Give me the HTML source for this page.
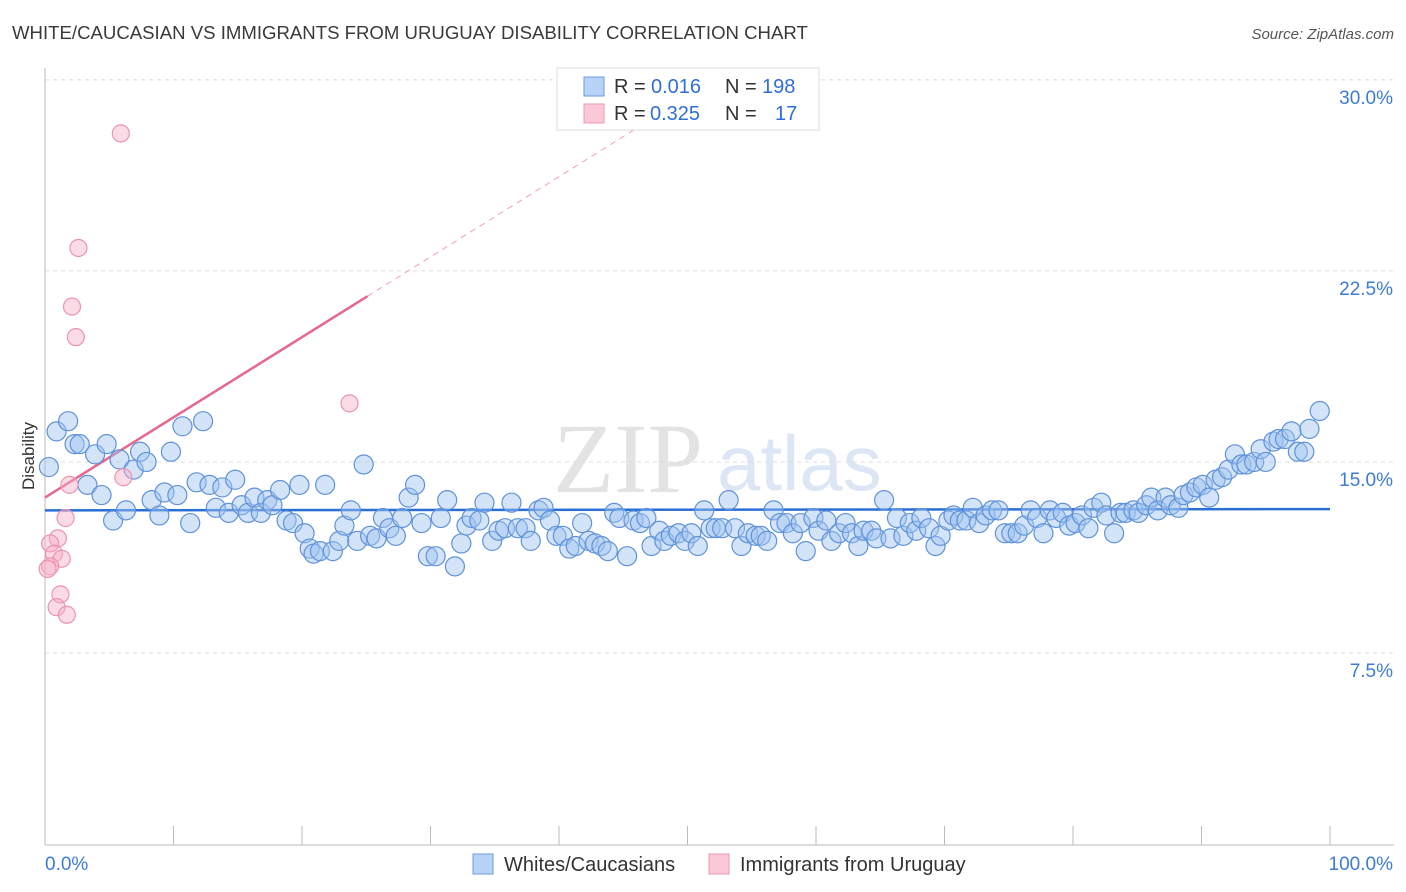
<!DOCTYPE html>
<html><head><meta charset="utf-8"><style>
body{margin:0;background:#fff;font-family:"Liberation Sans",sans-serif}
svg{display:block}
</style></head><body>
<svg id="chart" width="1406" height="892" xmlns="http://www.w3.org/2000/svg" font-family="Liberation Sans, sans-serif">
<text x="12" y="39" font-size="18.6" fill="#3a3a3a">WHITE/CAUCASIAN VS IMMIGRANTS FROM URUGUAY DISABILITY CORRELATION CHART</text>
<text x="1394" y="39" font-size="15" fill="#555" font-style="italic" text-anchor="end">Source: ZipAtlas.com</text>
<g>
<text x="553" y="492" font-size="100" font-family="Liberation Serif, serif" fill="#d8d8d8" opacity="0.7">ZIP</text>
<text x="717" y="490" font-size="78" fill="#c5d6ee" opacity="0.6">atlas</text>
</g>
<g id="grid"></g>
<g id="axes"></g>
<g id="trend"></g>
<g id="pts"></g>
<text transform="translate(34,456) rotate(-90)" font-size="17" fill="#333" text-anchor="middle">Disability</text>
<g>
<rect x="557" y="68" width="262" height="62" fill="#fff" stroke="#ddd"/>
<rect x="584" y="77" width="20" height="19" fill="#b8d3f5" stroke="#6d9be0"/>
<rect x="584" y="104" width="20" height="19" fill="#fbc8d8" stroke="#ec9ab4"/>
<text x="614" y="93" font-size="20" fill="#333">R =</text>
<text x="651" y="93" font-size="20" fill="#2f6fd8">0.016</text>
<text x="725" y="93" font-size="20" fill="#333">N =</text>
<text x="762" y="93" font-size="20" fill="#2f6fd8">198</text>
<text x="614" y="120" font-size="20" fill="#333">R =</text>
<text x="650" y="120" font-size="20" fill="#2f6fd8">0.325</text>
<text x="725" y="120" font-size="20" fill="#333">N =</text>
<text x="775" y="120" font-size="20" fill="#2f6fd8">17</text>
</g>
<g>
<rect x="473" y="854" width="20" height="20" fill="#b8d3f5" stroke="#6d9be0"/>
<text x="504" y="871" font-size="20" fill="#333">Whites/Caucasians</text>
<rect x="709" y="854" width="20" height="20" fill="#fbc8d8" stroke="#ec9ab4"/>
<text x="740" y="871" font-size="20" fill="#333">Immigrants from Uruguay</text>
</g>
</svg>
<script>
const yTicks=[7.5,15,22.5,30];
const yTickLabels=["7.5%","15.0%","22.5%","30.0%"];
const xTickLabels=["0.0%","100.0%"];
const blueX=[0.3,0.9,1.8,2.3,2.7,3.3,3.9,4.4,4.8,5.3,5.8,6.3,6.9,7.4,7.9,8.3,8.9,9.3,9.8,10.3,10.7,11.3,11.8,12.3,12.8,13.3,13.8,14.3,14.8,15.3,15.8,16.3,16.8,17.3,17.7,18.3,18.8,19.3,19.8,20.2,20.6,20.9,21.4,21.8,22.4,22.9,23.3,23.8,24.3,24.8,25.3,25.8,26.3,26.8,27.3,27.8,28.3,28.8,29.3,29.8,30.4,30.8,31.3,31.9,32.4,32.8,33.2,33.8,34.2,34.8,35.3,35.8,36.3,36.8,37.4,37.8,38.4,38.8,39.3,39.8,40.3,40.8,41.3,41.8,42.3,42.8,43.3,43.8,44.3,44.7,45.3,45.8,46.3,46.8,47.2,47.8,48.2,48.7,49.3,49.8,50.3,50.8,51.3,51.8,52.2,52.7,53.2,53.7,54.2,54.7,55.3,55.7,56.2,56.7,57.2,57.7,58.2,58.8,59.2,59.8,60.2,60.8,61.2,61.8,62.3,62.8,63.3,63.7,64.3,64.7,65.3,65.8,66.3,66.8,67.3,67.8,68.2,68.8,69.3,69.7,70.3,70.7,71.2,71.7,72.2,72.7,73.2,73.7,74.2,74.7,75.2,75.7,76.2,76.7,77.2,77.7,78.2,78.7,79.2,79.7,80.2,80.7,81.2,81.6,82.2,82.6,83.2,83.7,84.1,84.7,85.1,85.7,86.1,86.6,87.2,87.6,88.2,88.6,89.1,89.6,90.1,90.6,91.1,91.6,92.1,92.6,93.1,93.5,94.1,94.6,95.0,95.6,96.0,96.5,97.0,97.5,98.0,98.4,99.2];
const blueY=[14.8,16.2,16.6,15.7,15.7,14.1,15.3,13.7,15.7,12.7,15.1,13.1,14.7,15.4,15.0,13.5,12.9,13.8,15.4,13.7,16.4,12.6,14.2,16.6,14.1,13.2,14.0,13.0,14.3,13.3,13.0,13.6,13.0,13.5,13.3,13.9,12.7,12.6,14.1,12.2,11.6,11.4,11.5,14.1,11.5,11.9,12.5,13.1,11.9,14.9,12.1,12.0,12.8,12.4,12.1,12.8,13.6,14.1,12.6,11.3,11.3,12.8,13.5,10.9,11.8,12.5,12.8,12.7,13.4,11.9,12.3,12.4,13.4,12.4,12.4,11.9,13.1,13.2,12.7,12.1,12.1,11.6,11.7,12.6,11.9,11.8,11.7,11.5,13.0,12.8,11.3,12.7,12.6,12.8,11.7,12.3,11.9,12.1,12.2,11.9,12.2,11.7,13.1,12.4,12.4,12.4,13.5,12.4,11.7,12.2,12.1,12.1,11.9,13.1,12.6,12.6,12.2,12.6,11.5,12.8,12.3,12.7,11.9,12.2,12.6,12.2,11.7,12.3,12.3,12.0,13.5,12.0,12.8,12.1,12.6,12.3,12.8,12.4,11.7,12.1,12.7,12.9,12.7,12.7,13.2,12.6,12.9,13.1,13.1,12.2,12.2,12.2,12.5,13.1,12.8,12.2,13.1,12.8,13.0,12.5,12.6,12.9,12.4,13.2,13.4,12.9,12.2,13.0,13.0,13.1,13.0,13.3,13.6,13.1,13.6,13.3,13.2,13.7,13.8,14.0,14.1,13.6,14.3,14.4,14.7,15.3,14.9,14.9,15.0,15.5,15.0,15.8,15.9,15.9,16.2,15.4,15.4,16.3,17.0];
const pinkX=[5.9,2.6,2.1,2.4,23.7,6.1,1.9,1.6,1.0,0.4,0.7,1.3,0.4,0.2,1.2,0.9,1.7];
const pinkY=[27.9,23.4,21.1,19.9,17.3,14.4,14.1,12.8,12.0,11.8,11.4,11.2,10.9,10.8,9.8,9.3,9.0];
const blueTrend=[13.1,13.15];
const pinkTrend=[13.6,0.315];
const pinkSolidEnd=25.1, pinkDashEnd=46;

const X0=45,X1=1330,Y0=844,YS=25.47;
const sx=v=>X0+(X1-X0)*v/100, sy=v=>Y0-v*YS;
const NS="http://www.w3.org/2000/svg";
function mk(tag,attrs,parent){const e=document.createElementNS(NS,tag);for(const k in attrs)e.setAttribute(k,attrs[k]);parent.appendChild(e);return e;}
const grid=document.getElementById('grid'),axes=document.getElementById('axes'),trend=document.getElementById('trend'),pts=document.getElementById('pts');
yTicks.forEach((t,i)=>{
  const l=mk('line',{x1:X0,x2:1394,y1:sy(t),y2:sy(t),stroke:'#ddd','stroke-dasharray':'4,4'},grid);
  
  
  const tx=mk('text',{x:1393,y:sy(t)+24,'font-size':19,fill:'#3d7bd9','text-anchor':'end'},axes);
  tx.textContent=yTickLabels[i];
  
  
});
mk('line',{x1:X0,x2:X0,y1:68,y2:845,stroke:'#bbb'},axes);
mk('line',{x1:X0,x2:1394,y1:845,y2:845,stroke:'#bbb'},axes);
for(let i=0;i<=10;i++){const x=sx(i*10);mk('line',{x1:x,x2:x,y1:826,y2:845,stroke:'#bbb'},axes);}
const xl0=mk('text',{x:45,y:870,'font-size':19,fill:'#3d7bd9'},axes);xl0.textContent=xTickLabels[0];


const xl1=mk('text',{x:1393,y:870,'font-size':19,fill:'#3d7bd9','text-anchor':'end'},axes);xl1.textContent=xTickLabels[1];


blueX.forEach((x,i)=>{
  const c=mk('circle',{cx:sx(x),cy:sy(blueY[i]),r:9.5,fill:'rgba(160,196,240,0.45)',stroke:'#5f92da','stroke-width':1.2},pts);
  
  
});
pinkX.forEach((x,i)=>{
  const c=mk('circle',{cx:sx(x),cy:sy(pinkY[i]),r:8.5,fill:'rgba(246,176,200,0.45)',stroke:'#eb94b0','stroke-width':1.2},pts);
  
  
});
const bt=mk('line',{x1:sx(0),x2:sx(100),y1:sy(blueTrend[0]),y2:sy(blueTrend[1]),stroke:'#2a6fd6','stroke-width':2.5},trend);


const pf=v=>pinkTrend[0]+pinkTrend[1]*v;
const pd=mk('line',{x1:sx(pinkSolidEnd),x2:sx(pinkDashEnd),y1:sy(pf(pinkSolidEnd)),y2:sy(pf(pinkDashEnd)),stroke:'#f0a0b8','stroke-width':1,'stroke-dasharray':'6,5'},trend);


const ps=mk('line',{x1:sx(0),x2:sx(pinkSolidEnd),y1:sy(pf(0)),y2:sy(pf(pinkSolidEnd)),stroke:'#e6678f','stroke-width':2.5},trend);


</script>
</body></html>
